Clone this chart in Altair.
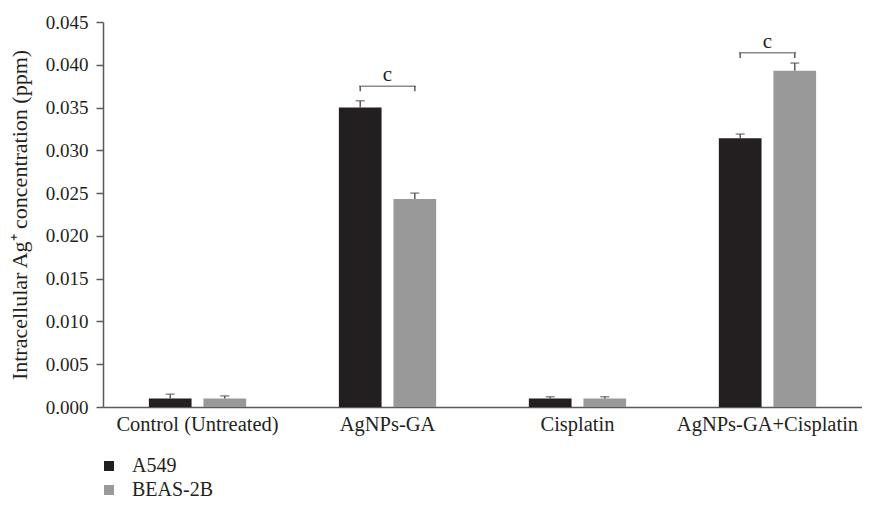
import altair as alt
import pandas as pd

groups = ["Control (Untreated)", "AgNPs-GA", "Cisplatin", "AgNPs-GA+Cisplatin"]
series = ["A549", "BEAS-2B"]
a549_values = [0.0010, 0.0350, 0.0010, 0.0314]
a549_errors = [0.0005, 0.0008, 0.0002, 0.0005]
beas_values = [0.0010, 0.0243, 0.0010, 0.0393]
beas_errors = [0.0003, 0.0007, 0.0002, 0.0009]
bracket_groups = ["AgNPs-GA", "AgNPs-GA+Cisplatin"]
bracket_levels = [0.0375, 0.0414]
bracket_labels = ["c", "c"]
colors = ["#231f20", "#999999"]
y_ticks = [0.0, 0.005, 0.010, 0.015, 0.020, 0.025, 0.030, 0.035, 0.040, 0.045]

rows = []
for i, g in enumerate(groups):
    rows.append({"group": g, "series": "A549", "value": a549_values[i],
                 "top": a549_values[i] + a549_errors[i]})
    rows.append({"group": g, "series": "BEAS-2B", "value": beas_values[i],
                 "top": beas_values[i] + beas_errors[i]})
df = pd.DataFrame(rows)

brows = []
for g, lv, lb in zip(bracket_groups, bracket_levels, bracket_labels):
    for s in series:
        brows.append({"group": g, "series": s, "level": lv, "low": lv - 0.0006, "label": lb})
bdf = pd.DataFrame(brows)
bdf_top = bdf[bdf["series"] == "A549"]

FONT = "Liberation Serif"
INK = "#231f20"
LINE = "#5a5a5a"

xscale = alt.Scale(domain=groups, paddingInner=0.488, paddingOuter=0.2415)
xaxis = alt.Axis(title=None, labelAngle=0, ticks=False, labelFontSize=20.5, labelFont=FONT,
                 labelColor=INK, domainColor=LINE, domainWidth=1.5, labelPadding=7,
                 labelLimit=0)
off = alt.XOffset("series:N", scale=alt.Scale(domain=series, paddingInner=0.218, paddingOuter=0))
yscale = alt.Scale(domain=[0, 0.045], nice=False)

bars = alt.Chart(df).mark_bar().encode(
    x=alt.X("group:N", scale=xscale, axis=xaxis, sort=groups),
    xOffset=off,
    y=alt.Y("value:Q", scale=yscale,
            axis=alt.Axis(title="Intracellular Ag⁺ concentration (ppm)", values=y_ticks,
                          format=".3f", grid=False, tickSize=7, tickColor=LINE, tickWidth=1.5,
                          domainColor=LINE, domainWidth=1.5, labelFontSize=19, labelFont=FONT,
                          labelColor=INK, titleFont=FONT, titleFontSize=22,
                          titleFontWeight="normal", titleColor=INK, titlePadding=14,
                          labelPadding=8)),
    color=alt.Color("series:N", scale=alt.Scale(domain=series, range=colors),
                    legend=alt.Legend(title=None, orient="none", legendX=-4, legendY=434,
                                      symbolType="square", symbolSize=100,
                                      symbolStrokeWidth=0, labelFont=FONT,
                                      labelFontSize=20, labelColor=INK, labelOffset=13,
                                      rowPadding=4, symbolOffset=0)),
)

err = alt.Chart(df).mark_rule(color=LINE, strokeWidth=1.5).encode(
    x=alt.X("group:N", scale=xscale, sort=groups),
    xOffset=off,
    y="value:Q",
    y2="top:Q",
)
caps = alt.Chart(df).mark_tick(color=LINE, orient="horizontal", size=9, thickness=1.5).encode(
    x=alt.X("group:N", scale=xscale, sort=groups),
    xOffset=off,
    y="top:Q",
)

bracket_line = alt.Chart(bdf_top).mark_tick(color=LINE, orient="horizontal", size=57, thickness=1.5).encode(
    x=alt.X("group:N", scale=xscale, sort=groups),
    y="level:Q",
)
bracket_legs = alt.Chart(bdf).mark_rule(color=LINE, strokeWidth=1.5).encode(
    x=alt.X("group:N", scale=xscale, sort=groups),
    xOffset=off,
    y="low:Q",
    y2="level:Q",
)
bracket_text = alt.Chart(bdf_top).mark_text(font=FONT, fontSize=21, color=INK, dy=-11).encode(
    x=alt.X("group:N", scale=xscale, sort=groups),
    y="level:Q",
    text="label:N",
)

chart = alt.layer(bars, err, caps, bracket_line, bracket_legs, bracket_text).properties(
    width=759, height=385,
    background="white",
    autosize=alt.AutoSizeParams(type="none"),
    padding={"left": 95, "top": 14, "right": 0, "bottom": 93},
).configure_view(stroke=None)

chart.save("out.html", embed_options={"renderer": "svg", "actions": False})
